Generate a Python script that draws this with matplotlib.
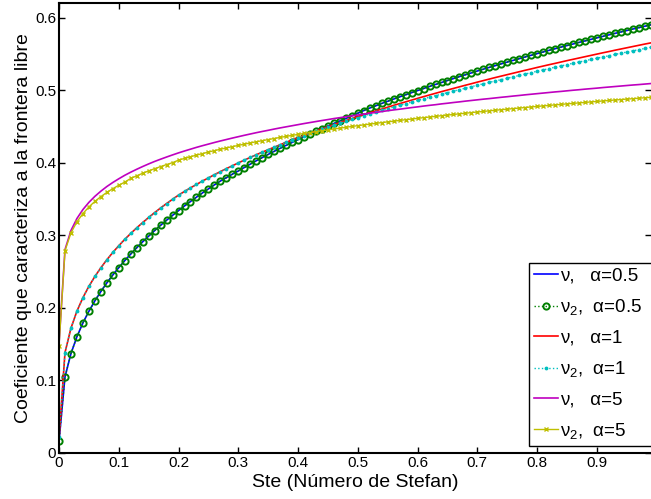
import numpy as np
import matplotlib; matplotlib.use("Agg"); import matplotlib.pyplot as plt

plt.rcParams["font.family"] = ["Liberation Sans", "DejaVu Sans"]
plt.rcParams["mathtext.fontset"] = "custom"
plt.rcParams["mathtext.rm"] = "Liberation Sans"
plt.rcParams["mathtext.it"] = "Liberation Sans:italic"
plt.rcParams["mathtext.default"] = "regular"

# Ste grid (step 0.01, as in the reference markers)
ste = np.round(np.arange(0, 1.0, 0.01), 2)

nu_05 = [0.016, 0.1048, 0.1370, 0.1603, 0.1792, 0.1953, 0.2096, 0.2225, 0.2343, 0.2452,
         0.2554, 0.2650, 0.2741, 0.2827, 0.2910, 0.2988, 0.3064, 0.3137, 0.3207, 0.3274,
         0.3340, 0.3404, 0.3465, 0.3525, 0.3583, 0.3639, 0.3694, 0.3747, 0.3793, 0.3841,
         0.3886, 0.3933, 0.3980, 0.4026, 0.4070, 0.4114, 0.4156, 0.4198, 0.4239, 0.4279,
         0.4319, 0.4357, 0.4395, 0.4432, 0.4469, 0.4505, 0.4540, 0.4575, 0.4609, 0.4646,
         0.4682, 0.4718, 0.4753, 0.4784, 0.4816, 0.4846, 0.4877, 0.4907, 0.4936, 0.4965,
         0.4994, 0.5022, 0.5050, 0.5078, 0.5105, 0.5132, 0.5159, 0.5186, 0.5212, 0.5237,
         0.5263, 0.5288, 0.5313, 0.5337, 0.5362, 0.5386, 0.5410, 0.5433, 0.5457, 0.5480,
         0.5503, 0.5525, 0.5548, 0.5570, 0.5592, 0.5614, 0.5635, 0.5657, 0.5678, 0.5699,
         0.5720, 0.5740, 0.5761, 0.5781, 0.5801, 0.5821, 0.5841, 0.5860, 0.5880, 0.5899]
nu2_05 = nu_05  # coincides with nu at alpha=0.5

nu_1 = [0.020, 0.1383, 0.1720, 0.1955, 0.2140, 0.2296, 0.2432, 0.2552, 0.2662, 0.2763,
        0.2856, 0.2943, 0.3025, 0.3102, 0.3175, 0.3245, 0.3312, 0.3376, 0.3437, 0.3496,
        0.3553, 0.3604, 0.3653, 0.3700, 0.3746, 0.3791, 0.3834, 0.3876, 0.3918, 0.3957,
        0.3997, 0.4035, 0.4072, 0.4109, 0.4144, 0.4179, 0.4213, 0.4247, 0.4280, 0.4313,
        0.4344, 0.4375, 0.4406, 0.4436, 0.4466, 0.4495, 0.4524, 0.4552, 0.4580, 0.4608,
        0.4635, 0.4661, 0.4688, 0.4714, 0.4739, 0.4764, 0.4790, 0.4814, 0.4838, 0.4862,
        0.4886, 0.4910, 0.4933, 0.4956, 0.4979, 0.5001, 0.5023, 0.5045, 0.5067, 0.5088,
        0.5110, 0.5131, 0.5152, 0.5173, 0.5193, 0.5213, 0.5233, 0.5253, 0.5273, 0.5292,
        0.5312, 0.5331, 0.5350, 0.5368, 0.5387, 0.5406, 0.5424, 0.5442, 0.5460, 0.5478,
        0.5496, 0.5514, 0.5531, 0.5549, 0.5566, 0.5583, 0.5600, 0.5617, 0.5634, 0.5650]

nu2_1 = [0.022, 0.1383, 0.1720, 0.1955, 0.2140, 0.2296, 0.2432, 0.2552, 0.2662, 0.2763,
         0.2856, 0.2943, 0.3025, 0.3102, 0.3175, 0.3245, 0.3312, 0.3376, 0.3437, 0.3496,
         0.3553, 0.3604, 0.3653, 0.3700, 0.3746, 0.3791, 0.3834, 0.3876, 0.3918, 0.3957,
         0.3997, 0.4035, 0.4072, 0.4109, 0.4144, 0.4179, 0.4213, 0.4247, 0.4280, 0.4313,
         0.4344, 0.4374, 0.4403, 0.4432, 0.4460, 0.4488, 0.4515, 0.4542, 0.4569, 0.4595,
         0.4621, 0.4645, 0.4671, 0.4695, 0.4719, 0.4743, 0.4767, 0.4790, 0.4812, 0.4835,
         0.4857, 0.4880, 0.4902, 0.4923, 0.4945, 0.4965, 0.4986, 0.5006, 0.5027, 0.5047,
         0.5067, 0.5087, 0.5106, 0.5126, 0.5144, 0.5163, 0.5183, 0.5202, 0.5222, 0.5240,
         0.5260, 0.5278, 0.5297, 0.5315, 0.5333, 0.5352, 0.5369, 0.5387, 0.5404, 0.5422,
         0.5439, 0.5457, 0.5473, 0.5491, 0.5508, 0.5524, 0.5541, 0.5557, 0.5574, 0.5590]

nu_5 = [0.150, 0.2801, 0.3065, 0.3231, 0.3354, 0.3453, 0.3536, 0.3607, 0.3671, 0.3727,
        0.3778, 0.3826, 0.3869, 0.3909, 0.3947, 0.3983, 0.4017, 0.4048, 0.4078, 0.4107,
        0.4135, 0.4161, 0.4186, 0.4211, 0.4234, 0.4256, 0.4278, 0.4299, 0.4319, 0.4339,
        0.4358, 0.4377, 0.4395, 0.4413, 0.4430, 0.4446, 0.4463, 0.4479, 0.4494, 0.4509,
        0.4524, 0.4539, 0.4553, 0.4567, 0.4581, 0.4594, 0.4608, 0.4620, 0.4633, 0.4645,
        0.4657, 0.4670, 0.4681, 0.4693, 0.4704, 0.4716, 0.4727, 0.4737, 0.4748, 0.4759,
        0.4769, 0.4780, 0.4790, 0.4799, 0.4810, 0.4819, 0.4829, 0.4838, 0.4848, 0.4857,
        0.4866, 0.4875, 0.4883, 0.4892, 0.4901, 0.4909, 0.4918, 0.4926, 0.4935, 0.4943,
        0.4951, 0.4959, 0.4967, 0.4975, 0.4982, 0.4990, 0.4998, 0.5005, 0.5013, 0.5020,
        0.5027, 0.5035, 0.5042, 0.5049, 0.5056, 0.5063, 0.5070, 0.5076, 0.5083, 0.5090]

nu2_5 = [0.148, 0.2786, 0.3032, 0.3185, 0.3299, 0.3390, 0.3466, 0.3532, 0.3590, 0.3642,
         0.3689, 0.3732, 0.3783, 0.3819, 0.3854, 0.3887, 0.3917, 0.3946, 0.3974, 0.4000,
         0.4035, 0.4059, 0.4082, 0.4104, 0.4125, 0.4146, 0.4166, 0.4185, 0.4203, 0.4221,
         0.4238, 0.4255, 0.4272, 0.4288, 0.4303, 0.4318, 0.4333, 0.4348, 0.4362, 0.4376,
         0.4389, 0.4403, 0.4415, 0.4428, 0.4440, 0.4452, 0.4464, 0.4476, 0.4488, 0.4499,
         0.4510, 0.4521, 0.4531, 0.4542, 0.4552, 0.4562, 0.4572, 0.4582, 0.4592, 0.4601,
         0.4611, 0.4620, 0.4629, 0.4638, 0.4647, 0.4656, 0.4664, 0.4673, 0.4681, 0.4690,
         0.4698, 0.4706, 0.4714, 0.4722, 0.4730, 0.4737, 0.4745, 0.4752, 0.4760, 0.4768,
         0.4775, 0.4782, 0.4789, 0.4796, 0.4803, 0.4810, 0.4817, 0.4823, 0.4830, 0.4837,
         0.4844, 0.4850, 0.4857, 0.4863, 0.4869, 0.4876, 0.4881, 0.4888, 0.4894, 0.4900]

labels = ["ν,   α=0.5", "ν$_2$,  α=0.5", "ν,   α=1", "ν$_2$,  α=1", "ν,   α=5", "ν$_2$,  α=5"]
xticks = [0, 0.1, 0.2, 0.3, 0.4, 0.5, 0.6, 0.7, 0.8, 0.9]
yticks = [0, 0.1, 0.2, 0.3, 0.4, 0.5, 0.6]

fig = plt.figure(figsize=(6.51, 4.99), dpi=100)
ax = fig.add_axes([59/651, 46/499, 592/651, 450/499])
ax.plot(ste, nu_05, "-", color="#0000ff", lw=1.2, label=labels[0])
ax.plot(ste, nu2_05, ":o", color="#008000", lw=1.0, ms=4.5, mew=1.4, mfc="none", label=labels[1])
ax.plot(ste, nu_1, "-", color="#ff0000", lw=1.2, label=labels[2])
ax.plot(ste, nu2_1, ":.", color="#00bfbf", lw=1.0, ms=3.5, label=labels[3])
ax.plot(ste, nu_5, "-", color="#bf00bf", lw=1.2, label=labels[4])
ax.plot(ste, nu2_5, "-x", color="#bfbf00", lw=1.0, ms=3.5, mew=1.0, label=labels[5])

ax.set_xlim(0, 0.9905); ax.set_ylim(0, 0.62)
ax.set_xticks(xticks); ax.set_xticklabels([f"{t:g}" for t in xticks])
ax.set_yticks(yticks); ax.set_yticklabels([f"{t:g}" for t in yticks])
ax.tick_params(direction="in", top=True, right=True, length=4, width=1, labelsize=11, pad=2)
for s in ("left", "bottom", "top"): ax.spines[s].set_linewidth(1.5)
ax.spines["right"].set_visible(False)
ax.set_xlabel("Ste (Número de Stefan)", fontsize=14, labelpad=3)
ax.set_ylabel("Coeficiente que caracteriza a la frontera libre", fontsize=14, labelpad=2)

# legend box: left edge at 529 px, top at 263 px, runs past the right edge like the reference
top = 1 - 263/499
leg = ax.legend(loc="upper left", bbox_to_anchor=(529/651, top - 0.3, 0.2, 0.3), bbox_transform=fig.transFigure,
                mode="expand", borderaxespad=0, fontsize=13.5, handlelength=1.3, handletextpad=0.12,
                labelspacing=0.66, borderpad=0.25, fancybox=False, framealpha=1, edgecolor="k")
leg.get_frame().set_linewidth(1.0)
fig.savefig("out.png", dpi=100)
